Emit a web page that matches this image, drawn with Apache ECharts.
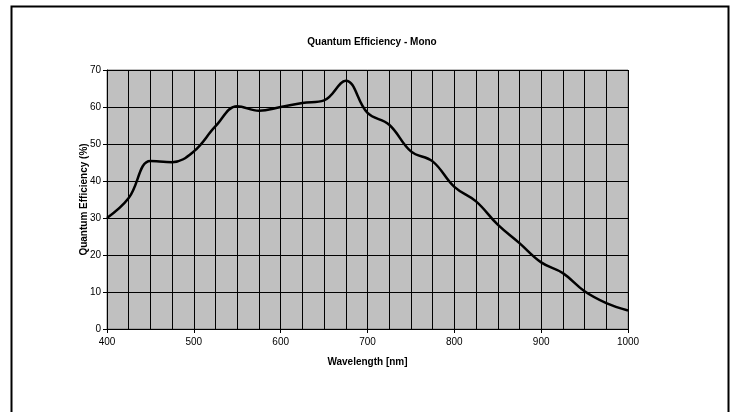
<!DOCTYPE html>
<html><head><meta charset="utf-8">
<script src="https://cdn.jsdelivr.net/npm/echarts@6/dist/echarts.min.js"></script>
<style>html,body{margin:0;padding:0;background:#fff}#c{width:732px;height:412px}</style>
</head><body><div id="c"></div>
<script>
const wavelengths = [400,425,450,475,500,525,550,575,600,625,650,675,700,725,750,775,800,825,850,875,900,925,950,975,1000];
const qeMono = [30,35.4,45.4,45.1,48,54.8,60.2,59,60,61.1,61.8,67.1,58.4,55.2,48,45.3,38.4,34.5,28.2,23.2,18,15.1,10.2,7,5];
const titleText = 'Quantum Efficiency - Mono';
const xName = 'Wavelength [nm]';
const yName = 'Quantum Efficiency (%)';

const chart = echarts.init(document.getElementById('c'));
const F = 'Liberation Sans, Arial, sans-serif';
chart.setOption({
  animation: false,
  backgroundColor: '#fff',
  title: { text: titleText, left: 367, top: 32, textAlign: 'center',
    textStyle: { fontFamily: F, fontSize: 10, fontWeight: 'bold', color: '#000' } },
  graphic: [{ type: 'rect', shape: { x: 11.5, y: 6.5, width: 717, height: 420 },
    style: { fill: null, stroke: '#000', lineWidth: 2 }, silent: true }],
  grid: { left: 107, right: 104, top: 70, bottom: 83, show: true,
    backgroundColor: '#c0c0c0', borderColor: '#808080', borderWidth: 1 },
  xAxis: { type: 'value', min: 400, max: 1000, interval: 100,
    name: xName, nameLocation: 'middle', nameGap: 28,
    nameTextStyle: { fontFamily: F, fontSize: 10, fontWeight: 'bold', color: '#000' },
    axisLine: { show: true, onZero: false, lineStyle: { color: '#000', width: 1 } },
    axisTick: { show: true, length: 4, lineStyle: { color: '#000' } },
    axisLabel: { fontFamily: F, fontSize: 10, color: '#000', margin: 8, formatter: v => String(v) },
    splitLine: { show: true, lineStyle: { color: '#000', width: 1 } },
    minorTick: { show: false, splitNumber: 4 },
    minorSplitLine: { show: true, lineStyle: { color: '#000', width: 1 } } },
  yAxis: { type: 'value', min: 0, max: 70, interval: 10,
    name: yName, nameLocation: 'middle', nameGap: 18, nameRotate: 90, nameMoveOverlap: false,
    nameTextStyle: { fontFamily: F, fontSize: 10, fontWeight: 'bold', color: '#000' },
    axisLine: { show: true, lineStyle: { color: '#000', width: 1 } },
    axisTick: { show: true, length: 4, lineStyle: { color: '#000' } },
    axisLabel: { fontFamily: F, fontSize: 10, color: '#000', margin: 6 },
    splitLine: { show: true, lineStyle: { color: '#000', width: 1 } } },
  series: [{ type: 'line', data: wavelengths.map((w, i) => [w, qeMono[i]]),
    smooth: 0.4, showSymbol: false, symbol: 'none',
    lineStyle: { color: '#000', width: 2.5 } }]
});
</script></body></html>
